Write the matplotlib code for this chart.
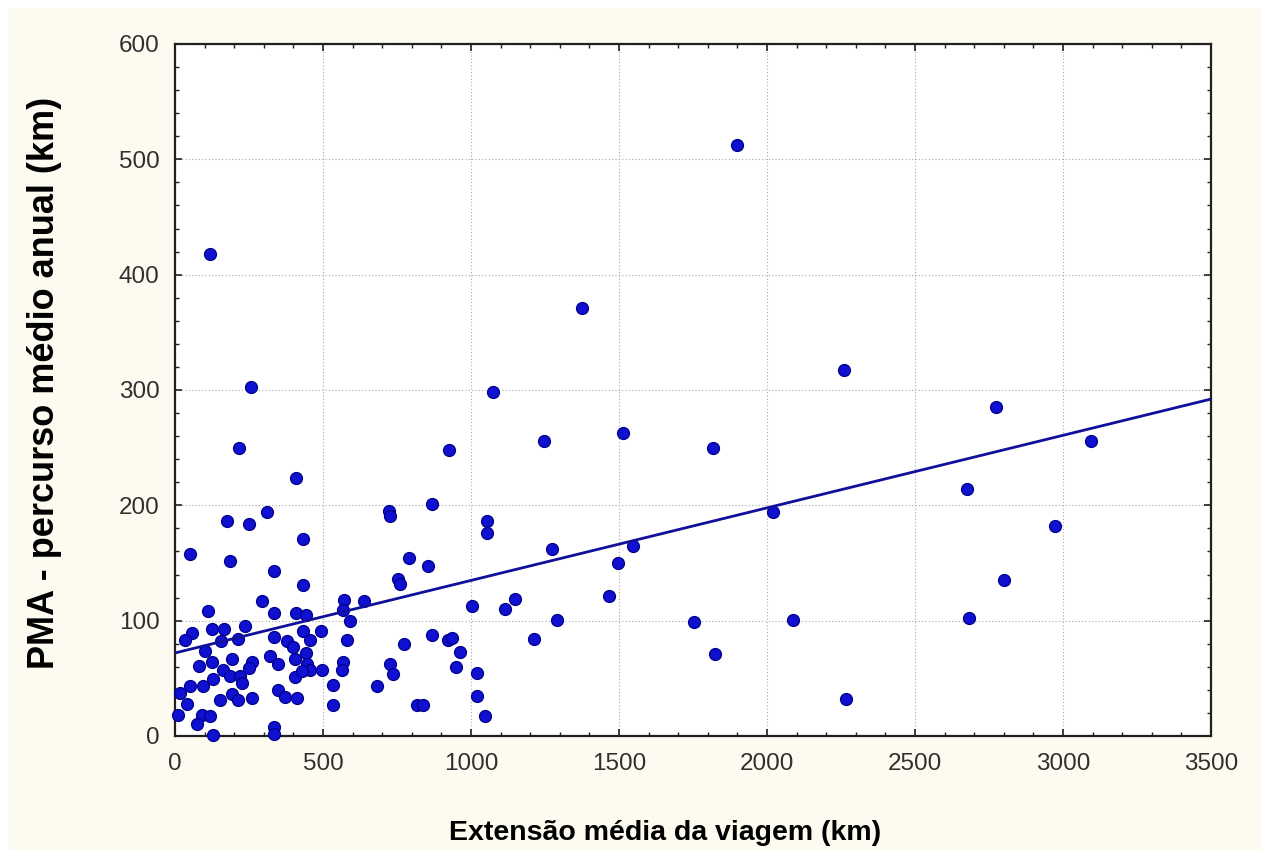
import numpy as np
import matplotlib
matplotlib.use("Agg")
import matplotlib.pyplot as plt
from matplotlib.patches import Rectangle
from matplotlib.ticker import MultipleLocator

# trip length (km) vs. annual mean distance (km)
ext_km = [1900, 118, 1376, 2259, 257, 1075, 2773, 1515, 1248, 3094,
          216, 927, 1819, 409, 2675, 868, 2019, 722, 727, 310,
          177, 249, 1053, 1053, 2973, 434, 1548, 51, 1272, 792,
          186, 1496, 855, 336, 755, 761, 2800, 434, 1466, 1148,
          293, 572, 637, 1116, 1003, 569, 592, 113, 336, 409,
          443, 1291, 1753, 2087, 2682, 59, 34, 124, 166, 156,
          212, 237, 336, 380, 400, 432, 457, 494, 580, 772,
          868, 922, 935, 1214, 962, 1826, 101, 81, 124, 192,
          259, 250, 321, 347, 406, 443, 445, 457, 496, 163,
          186, 220, 225, 406, 430, 130, 96, 51, 17, 40,
          152, 192, 214, 259, 349, 372, 411, 11, 90, 118,
          73, 130, 336, 336, 950, 1020, 1020, 1048, 569, 563,
          535, 535, 682, 727, 736, 817, 837, 2266]
pma_km = [512, 418, 371, 317, 303, 298, 285, 263, 256, 256,
          250, 248, 250, 224, 214, 201, 194, 195, 191, 194,
          186, 184, 186, 176, 182, 171, 165, 158, 162, 154,
          152, 150, 147, 143, 136, 132, 135, 131, 121, 119,
          117, 118, 117, 110, 113, 109, 100, 108, 107, 107,
          105, 101, 99, 101, 102, 89, 83, 93, 93, 82,
          84, 95, 86, 82, 77, 91, 83, 91, 83, 80,
          88, 83, 85, 84, 73, 71, 74, 61, 64, 67,
          64, 59, 69, 62, 67, 72, 62, 57, 57, 57,
          52, 52, 46, 51, 56, 49, 43, 43, 37, 28,
          31, 36, 31, 33, 40, 34, 33, 18, 18, 17,
          10, 1, 8, 2, 60, 55, 35, 17, 64, 57,
          44, 27, 43, 62, 54, 27, 27, 32]

# regression line as drawn in the picture
fit_intercept = 72.0
fit_slope = 0.0629

cream = "#fdfbf0"
fig = plt.figure(figsize=(12.61, 8.5), dpi=100, facecolor="white")
fig.patches.append(Rectangle((8/1261, 0), 1, 1 - 8/850, transform=fig.transFigure,
                             facecolor=cream, edgecolor="none", zorder=-10))

ax = fig.add_axes([175/1261, 114/850, 1036/1261, 692/850])
ax.set_facecolor("white")

ax.plot(ext_km, pma_km, "o", ms=8.6, color="#1010d0", mec="#00008c", mew=0.9,
        zorder=3, clip_on=False)

xl = np.array([0, 3500])
ax.plot(xl, fit_intercept + fit_slope*xl, color="#10109a", lw=2, zorder=4)

ax.set_xlim(0, 3500)
ax.set_ylim(0, 600)
ax.xaxis.set_major_locator(MultipleLocator(500))
ax.xaxis.set_minor_locator(MultipleLocator(100))
ax.yaxis.set_major_locator(MultipleLocator(100))
ax.yaxis.set_minor_locator(MultipleLocator(20))

ax.grid(True, which="major", color="#a8a8a8", ls=(0, (1, 2)), lw=0.8)
ax.tick_params(which="both", direction="in", top=True, right=True,
               color="#202020", labelsize=17.5, labelcolor="#303030")
ax.tick_params(which="major", length=5, width=1.2)
ax.tick_params(axis="y", which="major", pad=11)
ax.tick_params(axis="x", which="major", pad=12)
ax.tick_params(which="minor", length=3, width=1)
for sp in ax.spines.values():
    sp.set_linewidth(1.6)
    sp.set_color("#202020")

for lab in ax.get_xticklabels() + ax.get_yticklabels():
    lab.set_family("Liberation Sans")

ax.set_xlabel("Extensão média da viagem (km)", family="Liberation Sans",
              fontsize=20.5, fontweight="bold", va="baseline")
ax.xaxis.set_label_coords(0.4735, -104/692)
ax.set_ylabel("PMA - percurso médio anual (km)", family="Liberation Sans",
              fontsize=26, fontweight="bold", va="center")
ax.yaxis.set_label_coords(-0.1255, 0.51)

fig.savefig("out.png", dpi=100, facecolor=fig.get_facecolor())
